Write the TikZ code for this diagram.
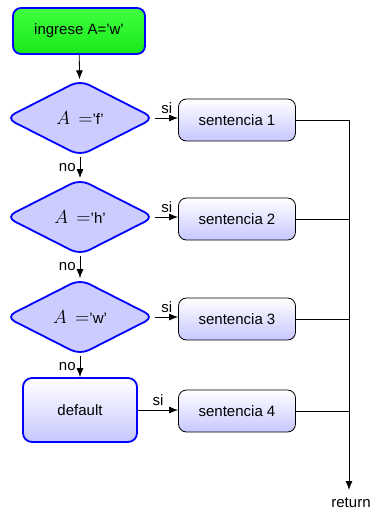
\documentclass[tikz,border=0pt]{standalone}
\usepackage{fix-cm}
\usepackage{fontspec}
\setmainfont{Liberation Sans}
\usetikzlibrary{shapes.geometric,arrows.meta}
\newcommand{\mathA}{\scalebox{1.25}{$A\,=$}}
\begin{document}
\begin{tikzpicture}[x=1pt,y=-1pt,
  font=\fontsize{15}{18}\selectfont,
  arr/.style={-{Latex[length=9pt,width=7pt]}, line width=0.8pt},
  ln/.style={line width=0.8pt},
  startbox/.style={draw=blue, line width=1.8pt, rounded corners=8pt, top color=green!75!white, bottom color=green!90!black!90, minimum width=132pt, minimum height=46pt, inner sep=0pt},
  decide/.style={diamond, aspect=2, draw=blue, line width=1.8pt, rounded corners=10pt, fill=blue!20, minimum width=149pt, minimum height=76pt, inner sep=0pt},
  stmt/.style={draw=black, line width=0.8pt, rounded corners=8pt, top color=white, bottom color=blue!22, minimum width=117pt, minimum height=42pt, inner sep=0pt},
  defbox/.style={draw=blue, line width=1.8pt, rounded corners=9pt, top color=white, bottom color=blue!22, minimum width=114pt, minimum height=64pt, inner sep=0pt},
  lbl/.style={inner sep=4pt}
]
\useasboundingbox (0,0) rectangle (371,512);
\node[startbox] (start) at (79,31) {ingrese A=’w’};
\node[decide] (d1) at (80,118) {\mathA’f’};
\node[decide] (d2) at (80,217) {\mathA’h’};
\node[decide] (d3) at (80,317) {\mathA’w’};
\node[defbox] (def) at (80,410) {default};
\node[stmt] (s1) at (237,120) {sentencia 1};
\node[stmt] (s2) at (237,219) {sentencia 2};
\node[stmt] (s3) at (237,319) {sentencia 3};
\node[stmt] (s4) at (237,411) {sentencia 4};
\coordinate (ret) at (349,490);
\node[inner sep=0pt, anchor=north] (rettxt) at (351,498) {return};

\draw[arr] (start) -- (d1);
\draw[arr] (d1) -- node[lbl,left] {no} (d2);
\draw[arr] (d2) -- node[lbl,left] {no} (d3);
\draw[arr] (d3) -- node[lbl,left] {no} (def);
\draw[arr] (d1.east) -- node[lbl,above] {si} (s1.west |- d1.east);
\draw[arr] (d2.east) -- node[lbl,above] {si} (s2.west |- d2.east);
\draw[arr] (d3.east) -- node[lbl,above] {si} (s3.west |- d3.east);
\draw[arr] (def.east) -- node[lbl,above] {si} (s4.west |- def.east);
\draw[ln] (s1.east) -- (s1.east -| ret);
\draw[ln] (s2.east) -- (s2.east -| ret);
\draw[ln] (s3.east) -- (s3.east -| ret);
\draw[ln] (s4.east) -- (s4.east -| ret);
\draw[arr] (s1.east -| ret) -- (ret);
\end{tikzpicture}
\end{document}
